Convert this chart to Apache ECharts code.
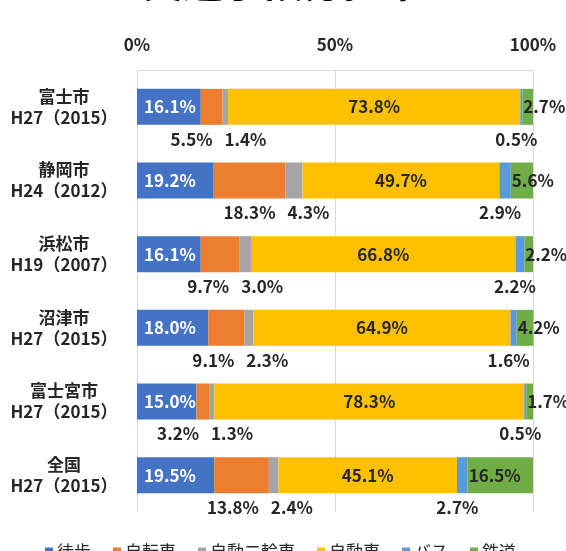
<!DOCTYPE html>
<html><head><meta charset="utf-8">
<script src="https://cdn.jsdelivr.net/npm/echarts@6/dist/echarts.min.js"></script>
<style>html,body{margin:0;padding:0;background:#fff;}#c{width:566px;height:551px;}</style>
</head><body><div id="c"></div>
<script>
const titleText = '交通手段分担率';
const categories = ['富士市\nH27（2015）','静岡市\nH24（2012）','浜松市\nH19（2007）','沼津市\nH27（2015）','富士宮市\nH27（2015）','全国\nH27（2015）'];
const seriesNames = ['徒歩','自転車','自動二輪車','自動車','バス','鉄道'];
const walk  = [16.1, 19.2, 16.1, 18.0, 15.0, 19.5];
const bike  = [5.5, 18.3, 9.7, 9.1, 3.2, 13.8];
const moto  = [1.4, 4.3, 3.0, 2.3, 1.3, 2.4];
const car   = [73.8, 49.7, 66.8, 64.9, 78.3, 45.1];
const bus   = [0.5, 2.9, 2.2, 1.6, 0.5, 2.7];
const rail  = [2.7, 5.6, 2.2, 4.2, 1.7, 16.5];
const xTicks = [0, 50, 100];

const FONT = '"Noto Sans CJK JP", "Noto Sans", sans-serif';
const colors = ['#4472C4','#ED7D31','#A5A5A5','#FFC000','#5B9BD5','#70AD47'];
const dark = '#262626';
const lblBase = {show:true, fontFamily:FONT, fontWeight:'bold', fontSize:17, color:dark, formatter: p => p.value.toFixed(1)+'%'};

function mk(name, data, color, label){
  return {name, type:'bar', stack:'t', data, barWidth:36, clip:false,
    itemStyle:{color}, label:Object.assign({}, lblBase, label), emphasis:{disabled:true}};
}

const chart = echarts.init(document.getElementById('c'), null, {renderer:'canvas'});
chart.setOption({
  animation:false,
  title:{text:titleText, left:'center', top:-43, textStyle:{fontFamily:FONT, fontWeight:'bold', fontSize:40, color:'#000'}},
  grid:{left:137, right:33, top:70, height:442, containLabel:false},
  legend:{data:seriesNames, left:40, top:538, itemWidth:8, itemHeight:8, itemGap:22, icon:'rect',
    textStyle:{fontFamily:FONT, fontSize:17, color:dark, padding:[0,0,0,-1]}},
  xAxis:{type:'value', position:'top', min:xTicks[0], max:xTicks[xTicks.length-1], interval:50,
    axisLabel:{formatter:'{value}%', fontFamily:FONT, fontWeight:'bold', fontSize:17, color:dark, margin:17},
    axisLine:{show:true, lineStyle:{color:'#D9D9D9'}}, axisTick:{show:false},
    splitLine:{show:true, lineStyle:{color:'#D9D9D9'}}},
  yAxis:{type:'category', data:categories, inverse:true,
    axisLine:{show:false}, axisTick:{show:false},
    axisLabel:{fontFamily:FONT, fontWeight:'bold', fontSize:17, color:dark, align:'center', margin:73, lineHeight:21, padding:[0,0,10,0]}},
  series:[
    mk('徒歩', walk, colors[0], {position:'insideLeft', distance:7, color:'#fff'}),
    mk('自転車', bike, colors[1], {position:['100%','100%'], align:'right', verticalAlign:'top', offset:[-10,6]}),
    mk('自動二輪車', moto, colors[2], {position:['0%','100%'], align:'left', verticalAlign:'top', offset:[2,6]}),
    mk('自動車', car, colors[3], {position:'inside'}),
    mk('バス', bus, colors[4], {position:'bottom', distance:6, offset:[-5,0]}),
    mk('鉄道', rail, colors[5], {position:'insideLeft', distance:1})
  ]
});
</script></body></html>
